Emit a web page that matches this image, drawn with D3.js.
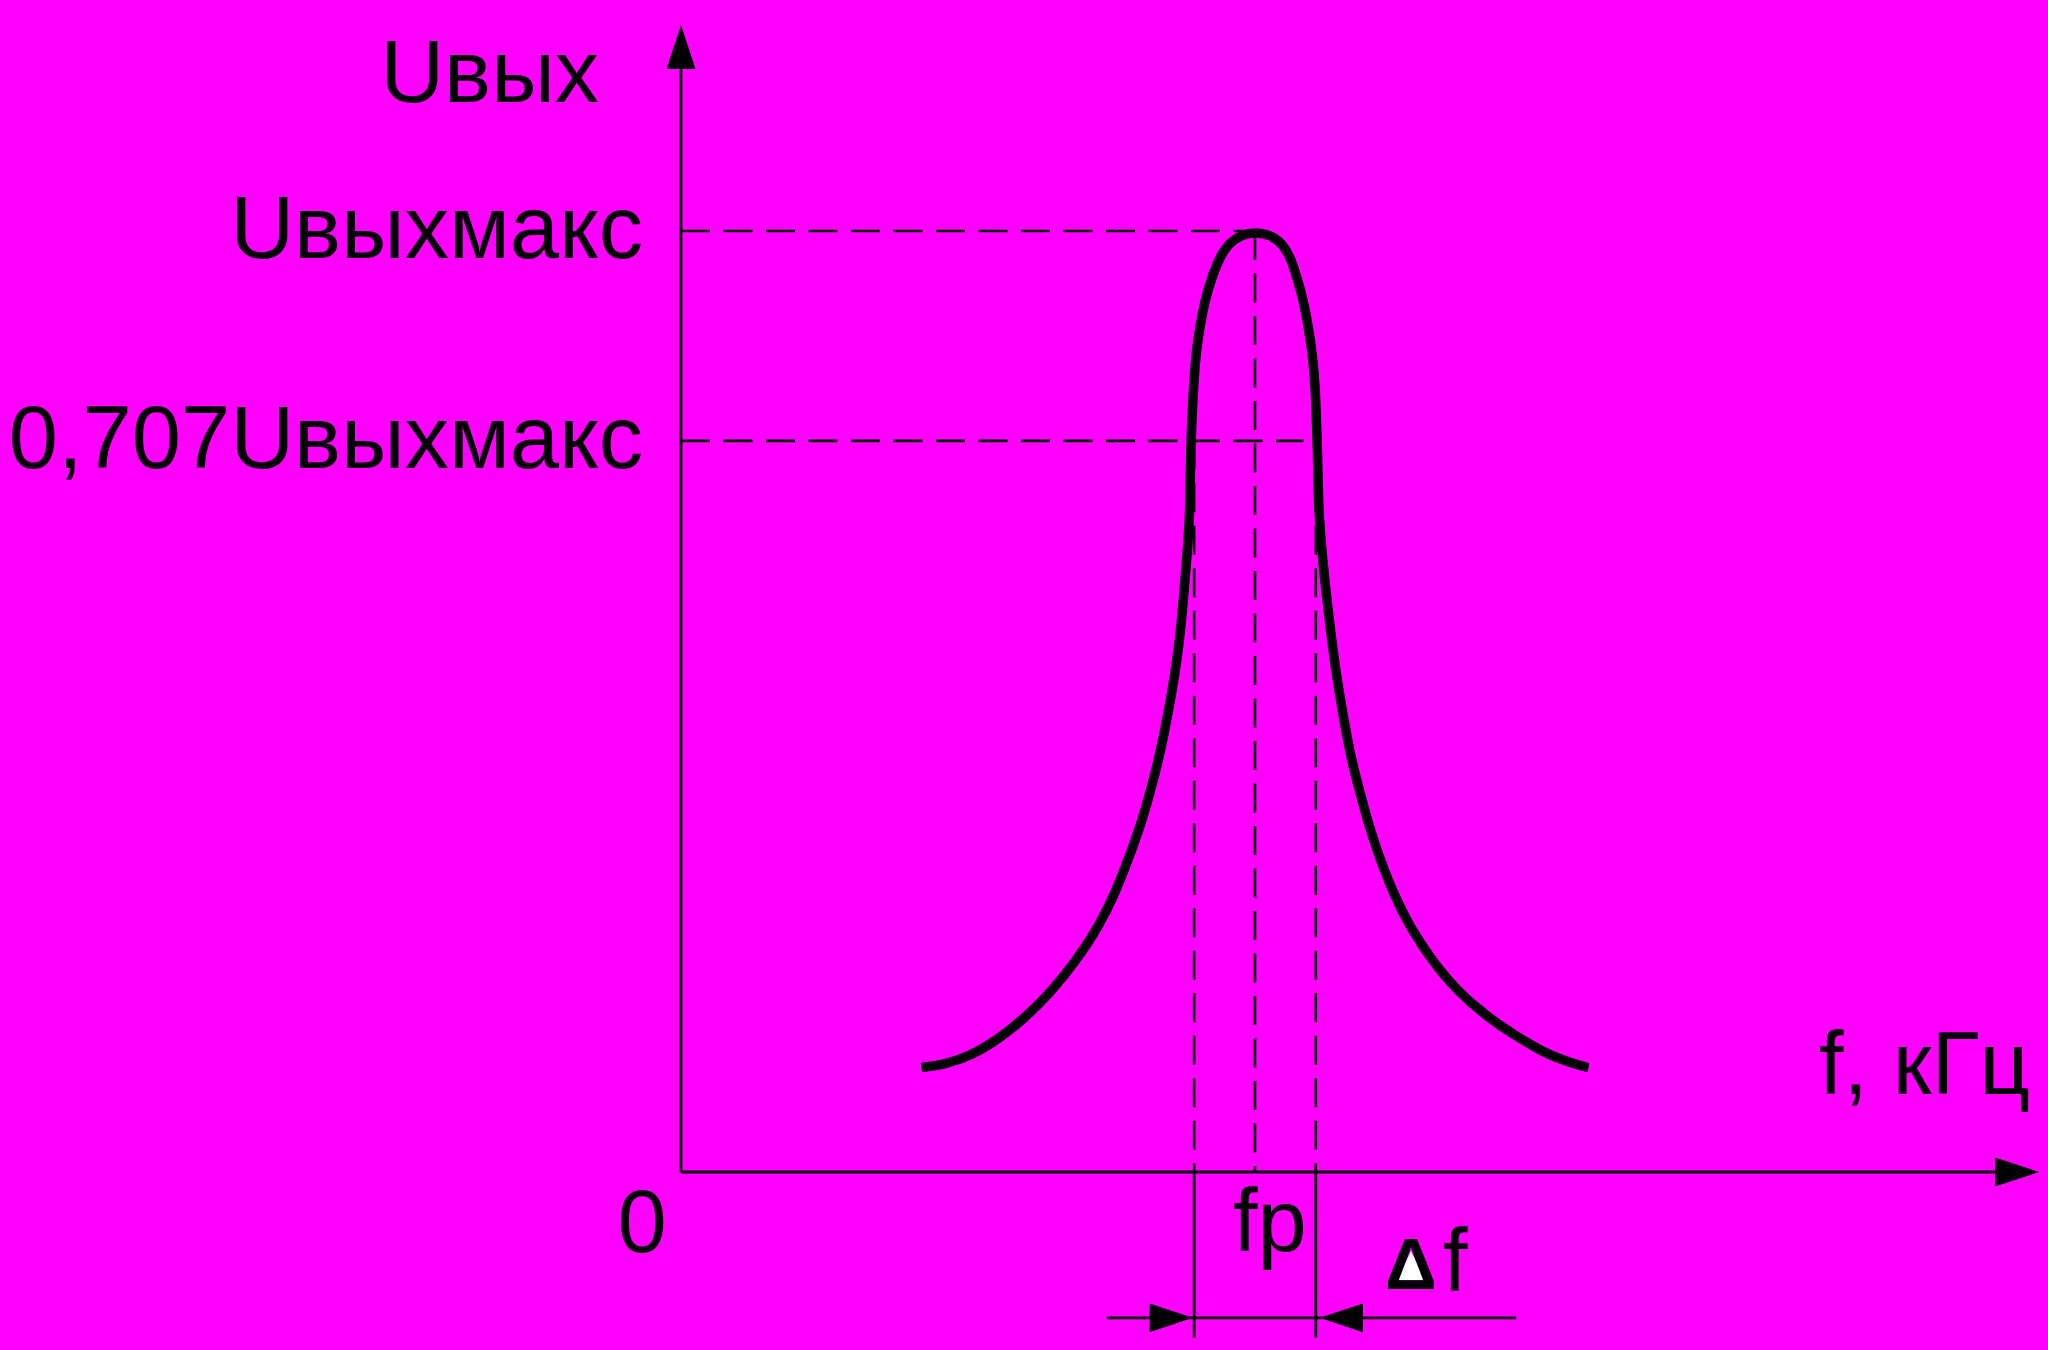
<!DOCTYPE html>
<html><head><meta charset="utf-8">
<script src="https://cdn.jsdelivr.net/npm/d3@7"></script>
<style>html,body{margin:0;padding:0;background:#ff00ff;} svg{display:block;}</style>
</head><body>
<script>
// ---- data ----
const curveFreq = [4.19, 4.57, 5.03, 5.50, 5.96, 6.43, 6.89, 7.27, 7.56, 7.79, 8.00, 8.17, 8.32, 8.44, 8.55, 8.64, 8.71, 8.76, 8.81, 8.86, 8.87, 8.88, 8.90, 8.93, 8.97, 9.04, 9.13, 9.25, 9.39, 9.56, 9.77, 10.00,
  10.26, 10.47, 10.61, 10.73, 10.84, 10.93, 11.00, 11.05, 11.07, 11.09, 11.10, 11.12, 11.18, 11.24, 11.31, 11.38, 11.47, 11.57, 11.68, 11.83, 11.99, 12.18, 12.41, 12.70, 13.08, 13.51, 14.04, 14.56, 15.14, 15.72, 15.81];
const curveVolt = [0.111, 0.114, 0.123, 0.140, 0.162, 0.190, 0.225, 0.260, 0.296, 0.332, 0.367, 0.403, 0.438, 0.473, 0.509, 0.544, 0.579, 0.615, 0.650, 0.693, 0.728, 0.764, 0.799, 0.835, 0.870, 0.898, 0.927, 0.951, 0.973, 0.988, 0.996, 0.999,
  0.996, 0.987, 0.973, 0.951, 0.927, 0.898, 0.870, 0.835, 0.799, 0.764, 0.728, 0.693, 0.650, 0.615, 0.579, 0.544, 0.509, 0.473, 0.438, 0.403, 0.367, 0.332, 0.296, 0.260, 0.225, 0.193, 0.165, 0.144, 0.123, 0.112, 0.111];
const levelNames = ["Uвыхмакс", "0,707Uвыхмакс"];
const levelValues = [1.0, 0.777];
const levelLineEnds = [10.0, 10.85];
const resonanceFreq = 10;
const bandFreqs = [8.94, 11.06];
const dimLineLevel = -0.155;
const dimLineExtent = [7.42, 14.55];
const dimTickLevel = -0.176;
const xAxisMax = 23.66;
const yAxisMax = 1.219;
const yAxisTitle = "Uвых";
const xAxisTitle = "f, кГц";
const originLabel = "0";
const resLabel = "fp";
const bandSym = "Δ";
const bandVar = "f";

// ---- drawing ----
const W = 2048, H = 1350;
const INK = "#000";
const FONT = "'Liberation Sans', Arial, sans-serif";
const FS = 88.5;
const svg = d3.select("body").append("svg").attr("width", W).attr("height", H);
svg.append("rect").attr("width", W).attr("height", H).attr("fill", "#ff00ff");

const x = d3.scaleLinear().domain([0, 10]).range([681, 1255]);
const y = d3.scaleLinear().domain([0, 1]).range([1172, 231]);
const line = d3.line().x(d => x(d[0])).y(d => y(d[1]));
const DASH = "29,13.5";

// axes
const arrowLen = 44, arrowHalf = 14.5;
svg.append("line").attr("x1", x(0)).attr("y1", y(0)).attr("x2", x(0)).attr("y2", y(yAxisMax) + arrowLen)
  .attr("stroke", INK).attr("stroke-width", 2.8);
svg.append("path").attr("fill", INK)
  .attr("d", `M${x(0)},${y(yAxisMax)} L${x(0) - arrowHalf},${y(yAxisMax) + arrowLen} L${x(0) + arrowHalf},${y(yAxisMax) + arrowLen} Z`);
svg.append("line").attr("x1", x(0)).attr("y1", y(0)).attr("x2", x(xAxisMax) - arrowLen).attr("y2", y(0))
  .attr("stroke", INK).attr("stroke-width", 2.8);
svg.append("path").attr("fill", INK)
  .attr("d", `M${x(xAxisMax)},${y(0)} L${x(xAxisMax) - arrowLen},${y(0) - arrowHalf} L${x(xAxisMax) - arrowLen},${y(0) + arrowHalf} Z`);

// horizontal dashed level lines
levelValues.forEach((v, i) => {
  svg.append("path").attr("d", line([[0, v], [levelLineEnds[i], v]]))
    .attr("stroke", INK).attr("stroke-width", 2.6).attr("stroke-dasharray", DASH).attr("fill", "none");
  svg.append("text").attr("x", x(0) - 38).attr("y", y(v) + 27)
    .attr("text-anchor", "end").attr("font-family", FONT).attr("font-size", FS).attr("fill", INK)
    .text(levelNames[i]);
});

// vertical dashed lines
svg.append("path").attr("d", line([[resonanceFreq, 1.0], [resonanceFreq, 0]]))
  .attr("stroke", INK).attr("stroke-width", 2.6).attr("stroke-dasharray", DASH).attr("fill", "none");
bandFreqs.forEach(f => {
  svg.append("path").attr("d", line([[f, levelValues[1]], [f, 0]]))
    .attr("stroke", INK).attr("stroke-width", 2.6).attr("stroke-dasharray", DASH).attr("fill", "none");
  svg.append("path").attr("d", line([[f, 0], [f, dimTickLevel]]))
    .attr("stroke", INK).attr("stroke-width", 2.8).attr("fill", "none");
});

// resonance curve
const pts = curveFreq.map((f, i) => [f, curveVolt[i]]);
svg.append("path").attr("d", d3.line().x(d => x(d[0])).y(d => y(d[1])).curve(d3.curveBasis)(pts))
  .attr("stroke", INK).attr("stroke-width", 9.5).attr("fill", "none")
  .attr("stroke-linejoin", "round").attr("stroke-linecap", "butt");

// dimension line with arrows
svg.append("path").attr("d", line([[dimLineExtent[0], dimLineLevel], [dimLineExtent[1], dimLineLevel]]))
  .attr("stroke", INK).attr("stroke-width", 2.8).attr("fill", "none");
const dy = y(dimLineLevel);
const lt = x(bandFreqs[0]) - 1.5, rt = x(bandFreqs[1]) + 4;
svg.append("path").attr("fill", INK)
  .attr("d", `M${lt},${dy} L${lt - 43},${dy - 14.3} L${lt - 43},${dy + 14.3} Z`);
svg.append("path").attr("fill", INK)
  .attr("d", `M${rt},${dy} L${rt + 43},${dy - 14.3} L${rt + 43},${dy + 14.3} Z`);

// labels
const txt = (s, xx, yy, anchor, size, weight) => svg.append("text").attr("x", xx).attr("y", yy)
  .attr("text-anchor", anchor).attr("font-family", FONT).attr("font-size", size)
  .attr("font-weight", weight || "normal").attr("fill", INK).text(s);
txt(yAxisTitle, x(0) - 82, 102, "end", FS);
txt(xAxisTitle, 1819, 1094, "start", FS);
txt(originLabel, x(0) - 39, y(0) + 80, "middle", FS);
txt(resLabel, x(resonanceFreq) - 22, y(0) + 79, "start", FS);
// Δ with white counter
const dx0 = 1385, dBase = 1289;
svg.append("path").attr("fill", "#fff")
  .attr("d", `M${dx0 + 26},${dBase - 38} L${dx0 + 12},${dBase - 9} L${dx0 + 40},${dBase - 9} Z`);
txt(bandSym, dx0, dBase, "start", 72, "bold");
txt(bandVar, 1443, 1291, "start", FS);
</script>
</body></html>
